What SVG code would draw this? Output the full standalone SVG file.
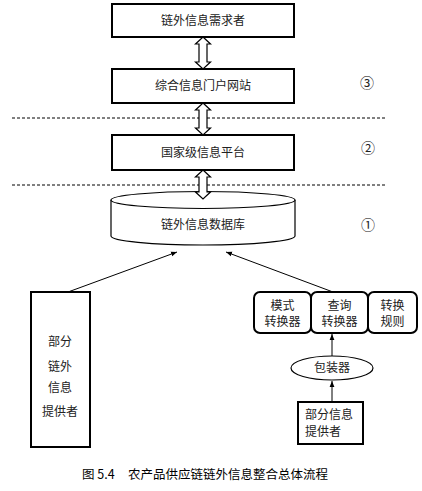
<svg xmlns="http://www.w3.org/2000/svg" width="422" height="491" viewBox="0 0 422 491">
<defs>
<style>
.box{fill:#fff;stroke:#000;stroke-width:2}
.thin{fill:#fff;stroke:#000;stroke-width:1.2}
.dbl{fill:#fff;stroke:#000;stroke-width:1.2}
.dash{stroke:#000;stroke-width:1;stroke-dasharray:3,2;fill:none}
.ln{stroke:#000;stroke-width:1;fill:none}
text{font-family:"Noto Sans CJK SC","Liberation Sans",sans-serif;font-size:12px;fill:#222}
.c{text-anchor:middle}
.cap{font-size:12.5px;fill:#000}
.num{font-family:"Noto Sans CJK SC",sans-serif;font-size:14px;fill:#222}
</style>
<marker id="ah" viewBox="0 0 10 10" refX="10" refY="5" markerWidth="6" markerHeight="6" orient="auto">
<path d="M0,1 L10,5 L0,9 Z" fill="#000"/>
</marker>
</defs>

<g id="dashes">
<line class="dash" x1="12" y1="118" x2="385" y2="118"/>
<line class="dash" x1="12" y1="185" x2="385" y2="185"/>
</g>

<g id="n_demand">
<rect class="box" x="112" y="4" width="182" height="33"/>
<text class="c" x="203" y="25">链外信息需求者</text>
</g>
<g id="n_portal">
<rect class="box" x="112" y="69" width="182" height="34"/>
<text class="c" x="203" y="90">综合信息门户网站</text>
</g>
<g id="n_platform">
<rect class="box" x="112" y="135" width="182" height="35"/>
<text class="c" x="203" y="157">国家级信息平台</text>
</g>
<g id="n_db">
<path class="thin" d="M111,200 L111,236 A92,9 0 0 0 295,236 L295,200"/>
<ellipse class="thin" cx="203" cy="200" rx="92" ry="8.5"/>
<text class="c" x="203" y="229">链外信息数据库</text>
</g>

<g id="nums">
<text class="num c" x="367" y="88">③</text>
<text class="num c" x="368" y="153">②</text>
<text class="num c" x="368" y="230">①</text>
</g>

<g id="n_left">
<rect class="box" x="31" y="292" width="59" height="155"/>
<text class="c" x="60" y="346">部分</text>
<text class="c" x="60" y="371">链外</text>
<text class="c" x="60" y="392">信息</text>
<text class="c" x="60" y="416">提供者</text>
</g>

<g id="n_mode">
<rect class="box" x="254" y="292" width="57" height="41" rx="6"/>
<text class="c" x="282.5" y="310">模式</text>
<text class="c" x="282.5" y="326">转换器</text>
</g>
<g id="n_query">
<rect class="box" x="311" y="292" width="57" height="41" rx="6"/>
<text class="c" x="339.5" y="310">查询</text>
<text class="c" x="339.5" y="326">转换器</text>
</g>
<g id="n_rule">
<rect class="box" x="368" y="292" width="49" height="41" rx="6"/>
<text class="c" x="392.5" y="310">转换</text>
<text class="c" x="392.5" y="326">规则</text>
</g>
<g id="n_wrapper">
<ellipse class="thin" cx="332" cy="368" rx="41" ry="12"/>
<text class="c" x="332" y="372">包装器</text>
</g>
<g id="n_partial">
<rect class="box" x="298" y="402" width="65" height="42"/>
<text x="305" y="419">部分信息</text>
<text x="305" y="436">提供者</text>
</g>

<g id="connectors">
<path class="dbl" d="M203,37 L210.5,44 L207,44 L207,62 L210.5,62 L203,69 L195.5,62 L199,62 L199,44 L195.5,44 Z"/>
<path class="dbl" d="M203,103 L210.5,110 L207,110 L207,128 L210.5,128 L203,135 L195.5,128 L199,128 L199,110 L195.5,110 Z"/>
<path class="dbl" d="M203,170 L210.5,177 L207,177 L207,192 L210.5,192 L203,199 L195.5,192 L199,192 L199,177 L195.5,177 Z"/>
<line class="ln" x1="68" y1="292" x2="177" y2="252" marker-end="url(#ah)"/>
<line class="ln" x1="333" y1="292" x2="226" y2="252" marker-end="url(#ah)"/>
<line class="ln" x1="332" y1="356" x2="332" y2="334" marker-end="url(#ah)"/>
<line class="ln" x1="332" y1="402" x2="332" y2="381" marker-end="url(#ah)"/>
</g>

<g id="caption">
<text class="cap" x="82" y="479">图 5.4</text>
<text class="cap" x="128" y="479">农产品供应链链外信息整合总体流程</text>
</g>
</svg>
